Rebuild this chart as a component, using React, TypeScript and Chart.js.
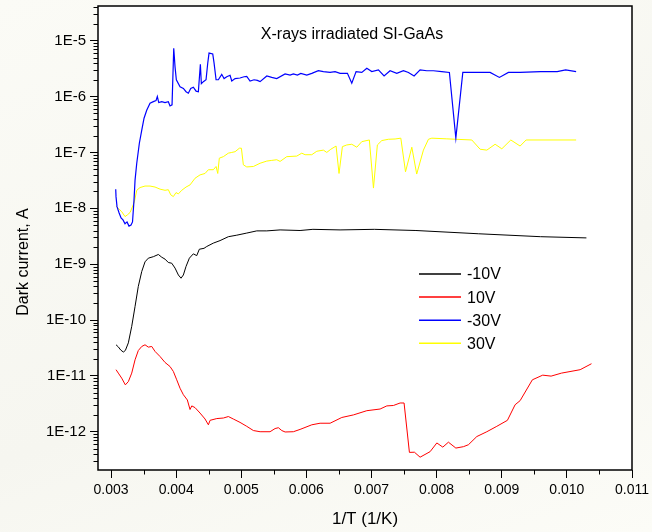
import React, { useEffect, useRef } from 'react';
import { Chart, registerables } from 'chart.js';

Chart.register(...registerables);

const FONT = '"Liberation Sans", Arial, sans-serif';

const X_MIN = 0.0028;
const X_MAX = 0.011;
const Y_MIN = 2.065e-13;
const Y_MAX = 4.18e-5;

const xTickValues = [0.003, 0.004, 0.005, 0.006, 0.007, 0.008, 0.009, 0.01, 0.011];
const xMinorTickValues = [0.0035, 0.0045, 0.0055, 0.0065, 0.0075, 0.0085, 0.0095, 0.0105];
const yTickValues = [1e-12, 1e-11, 1e-10, 1e-9, 1e-8, 1e-7, 1e-6, 1e-5];

const chartTitle = 'X-rays irradiated SI-GaAs';
const xTitle = '1/T (1/K)';
const yTitle = 'Dark current, A';

const seriesLabels = ['-10V', '10V', '-30V', '30V'];
const seriesColors = ['#000000', '#ff0000', '#0000ff', '#ffff00'];

// -10V
const blackX = [0.003077, 0.003112, 0.003149, 0.003189, 0.00322, 0.003266, 0.003318, 0.003369, 0.003419, 0.003472, 0.003522, 0.003573, 0.00365, 0.003727, 0.003779, 0.003829, 0.00388, 0.003932, 0.003983, 0.004034, 0.004075, 0.004111, 0.004152, 0.004203, 0.004264, 0.004316, 0.004356, 0.004428, 0.00447, 0.004571, 0.004674, 0.004802, 0.004931, 0.005084, 0.005238, 0.005392, 0.005596, 0.005903, 0.0061, 0.006517, 0.007043, 0.007682, 0.00864, 0.009597, 0.0103];
const blackY = [3.6e-11, 3.3e-11, 2.9e-11, 2.67e-11, 2.85e-11, 3.9e-11, 7.7e-11, 1.75e-10, 4.0e-10, 7.4e-10, 1.1e-9, 1.28e-9, 1.36e-9, 1.49e-9, 1.33e-9, 1.23e-9, 1.07e-9, 1.04e-9, 8.5e-10, 6.4e-10, 5.6e-10, 6.4e-10, 9.1e-10, 1.28e-9, 1.53e-9, 1.42e-9, 1.85e-9, 1.92e-9, 2.07e-9, 2.38e-9, 2.64e-9, 3.1e-9, 3.3e-9, 3.6e-9, 3.94e-9, 3.94e-9, 4.1e-9, 4.0e-9, 4.2e-9, 4.1e-9, 4.2e-9, 4.0e-9, 3.5e-9, 3.1e-9, 2.95e-9];

// 10V
const redX = [0.003077, 0.003112, 0.003164, 0.00322, 0.003266, 0.003318, 0.003369, 0.003419, 0.003472, 0.003522, 0.003573, 0.003625, 0.003676, 0.003753, 0.003829, 0.003906, 0.003957, 0.004009, 0.00406, 0.004111, 0.004172, 0.004213, 0.00424, 0.00429, 0.004367, 0.004444, 0.004495, 0.004521, 0.004624, 0.004725, 0.004802, 0.004878, 0.004981, 0.005084, 0.005186, 0.005289, 0.005442, 0.005519, 0.00557, 0.005622, 0.005673, 0.0058, 0.005903, 0.006083, 0.00621, 0.006364, 0.006544, 0.006722, 0.006928, 0.007132, 0.007235, 0.007336, 0.007439, 0.0075, 0.007582, 0.007659, 0.007746, 0.0079, 0.008003, 0.008095, 0.008181, 0.008295, 0.008411, 0.008488, 0.008617, 0.008771, 0.008924, 0.009087, 0.009205, 0.009282, 0.00947, 0.009629, 0.009758, 0.009917, 0.010204, 0.010378];
const redY = [1.29e-11, 1.12e-11, 9.1e-12, 6.9e-12, 7.9e-12, 1.12e-11, 1.94e-11, 2.84e-11, 3.36e-11, 3.6e-11, 3.27e-11, 3.36e-11, 2.74e-11, 2.22e-11, 1.74e-11, 1.47e-11, 1.2e-11, 8.5e-12, 6.0e-12, 4.6e-12, 3.7e-12, 2.5e-12, 2.9e-12, 2.7e-12, 2.16e-12, 1.69e-12, 1.33e-12, 1.6e-12, 1.72e-12, 1.76e-12, 1.87e-12, 1.69e-12, 1.47e-12, 1.25e-12, 1.05e-12, 1.0e-12, 1.0e-12, 1.14e-12, 1.18e-12, 1.05e-12, 9.9e-13, 1.0e-12, 1.1e-12, 1.33e-12, 1.42e-12, 1.42e-12, 1.8e-12, 2.0e-12, 2.38e-12, 2.55e-12, 2.9e-12, 2.95e-12, 3.27e-12, 3.27e-12, 4.27e-13, 4.3e-13, 3.5e-13, 4.4e-13, 6.3e-13, 5.3e-13, 6.5e-13, 5.1e-13, 5.4e-13, 5.85e-13, 8.2e-13, 1.0e-12, 1.25e-12, 1.6e-12, 3.04e-12, 3.6e-12, 8.5e-12, 1.03e-11, 9.9e-12, 1.12e-11, 1.29e-11, 1.65e-11];

// -30V
const blueX = [0.003072, 0.003077, 0.003092, 0.003123, 0.003154, 0.003184, 0.003215, 0.003246, 0.003276, 0.003307, 0.00333, 0.003353, 0.003369, 0.003395, 0.003435, 0.003472, 0.003507, 0.003548, 0.003599, 0.00365, 0.003691, 0.003711, 0.003733, 0.003779, 0.003829, 0.00388, 0.003906, 0.003937, 0.003963, 0.003983, 0.004003, 0.00406, 0.004111, 0.004152, 0.004187, 0.004224, 0.004264, 0.004306, 0.004341, 0.004372, 0.004387, 0.004418, 0.004459, 0.004485, 0.004505, 0.004562, 0.004582, 0.004613, 0.004648, 0.0047, 0.004736, 0.004777, 0.004828, 0.004854, 0.004905, 0.004981, 0.005043, 0.005084, 0.005135, 0.005196, 0.005247, 0.005289, 0.005392, 0.005468, 0.005545, 0.005673, 0.005749, 0.0058, 0.005862, 0.005914, 0.006006, 0.006083, 0.006184, 0.006261, 0.006364, 0.006441, 0.006517, 0.00663, 0.006697, 0.006763, 0.006851, 0.006928, 0.007004, 0.007106, 0.007193, 0.007285, 0.007388, 0.00749, 0.007567, 0.007654, 0.007746, 0.007849, 0.007951, 0.008079, 0.008196, 0.008295, 0.008402, 0.008821, 0.008964, 0.009102, 0.009282, 0.009597, 0.009851, 0.009981, 0.010142];
const blueY = [2.2e-8, 1.6e-8, 1.07e-8, 8.3e-9, 6.7e-9, 6.2e-9, 5.3e-9, 5.7e-9, 4.8e-9, 5.0e-9, 5.7e-9, 1.4e-8, 3.2e-8, 6.4e-8, 1.46e-7, 2.5e-7, 4.1e-7, 5.7e-7, 7.6e-7, 8.1e-7, 8.45e-7, 1.0e-6, 7.8e-7, 8.1e-7, 7.8e-7, 8.1e-7, 6.8e-7, 7.1e-7, 7.3e-6, 3.4e-6, 2.0e-6, 1.5e-6, 1.4e-6, 1.22e-6, 1.15e-6, 1.4e-6, 1.47e-6, 1.25e-6, 1.22e-6, 3.8e-6, 1.7e-6, 1.85e-6, 2.0e-6, 3.95e-6, 6.0e-6, 5.8e-6, 4.0e-6, 2.0e-6, 2.0e-6, 2.5e-6, 2.1e-6, 2.26e-6, 2.4e-6, 1.9e-6, 2.1e-6, 2.15e-6, 2.26e-6, 2.3e-6, 1.9e-6, 2.0e-6, 1.95e-6, 1.85e-6, 2.34e-6, 2.2e-6, 2.1e-6, 2.54e-6, 2.43e-6, 2.54e-6, 2.43e-6, 2.6e-6, 2.43e-6, 2.6e-6, 2.9e-6, 2.8e-6, 2.7e-6, 2.8e-6, 2.6e-6, 2.6e-6, 1.73e-6, 2.8e-6, 2.7e-6, 3.2e-6, 2.8e-6, 3.0e-6, 2.34e-6, 2.9e-6, 2.6e-6, 2.9e-6, 2.7e-6, 2.34e-6, 3.0e-6, 2.9e-6, 2.9e-6, 2.8e-6, 2.7e-6, 1.8e-7, 2.7e-6, 2.7e-6, 2.2e-6, 2.7e-6, 2.7e-6, 2.8e-6, 2.8e-6, 3.0e-6, 2.8e-6];

// 30V
const yellowX = [0.003077, 0.003112, 0.003164, 0.003215, 0.00325, 0.003292, 0.003327, 0.003358, 0.003395, 0.003445, 0.003522, 0.003599, 0.003676, 0.003753, 0.003829, 0.00388, 0.003917, 0.003957, 0.003998, 0.004034, 0.004086, 0.004152, 0.004213, 0.00429, 0.004367, 0.004444, 0.004495, 0.004571, 0.004613, 0.004639, 0.004663, 0.004725, 0.004802, 0.004854, 0.004905, 0.004971, 0.005002, 0.005032, 0.005084, 0.005186, 0.005289, 0.005392, 0.005468, 0.005545, 0.005596, 0.005699, 0.005852, 0.005929, 0.00598, 0.006083, 0.00616, 0.006261, 0.006313, 0.006375, 0.006456, 0.006501, 0.006553, 0.00662, 0.006697, 0.006774, 0.006851, 0.006967, 0.00703, 0.00709, 0.007158, 0.007259, 0.007362, 0.00745, 0.007522, 0.007619, 0.007694, 0.007797, 0.007874, 0.007926, 0.008156, 0.008295, 0.00854, 0.008668, 0.008771, 0.008898, 0.009001, 0.009139, 0.009282, 0.009374, 0.010142];
const yellowY = [1.1e-8, 1.0e-8, 8.7e-9, 7.1e-9, 7.6e-9, 8.4e-9, 1.05e-8, 1.3e-8, 2.1e-8, 2.35e-8, 2.5e-8, 2.5e-8, 2.4e-8, 2.2e-8, 2.1e-8, 2.15e-8, 1.74e-8, 1.62e-8, 1.91e-8, 1.81e-8, 2.1e-8, 2.4e-8, 2.62e-8, 3.45e-8, 3.96e-8, 4.2e-8, 4.9e-8, 4.9e-8, 5.6e-8, 4.2e-8, 7.9e-8, 8.4e-8, 9.7e-8, 1.0e-7, 1.03e-7, 1.19e-7, 1.19e-7, 6.0e-8, 5.5e-8, 5.6e-8, 6.4e-8, 7.0e-8, 7.2e-8, 7.4e-8, 6.9e-8, 8.4e-8, 8.6e-8, 9.7e-8, 9.1e-8, 9.1e-8, 1.05e-7, 1.1e-7, 1.0e-7, 1.14e-7, 1.3e-7, 4.2e-8, 1.27e-7, 1.36e-7, 1.4e-7, 1.24e-7, 1.56e-7, 1.67e-7, 2.3e-8, 1.36e-7, 1.63e-7, 1.72e-7, 1.74e-7, 1.8e-7, 4.5e-8, 1.24e-7, 4.1e-8, 1.1e-7, 1.72e-7, 1.8e-7, 1.75e-7, 1.72e-7, 1.67e-7, 1.14e-7, 1.1e-7, 1.4e-7, 1.16e-7, 1.67e-7, 1.3e-7, 1.67e-7, 1.67e-7];

const seriesX = [blackX, redX, blueX, yellowX];
const seriesY = [blackY, redY, blueY, yellowY];
const seriesWidths = [1, 1, 1.2, 1];

const decorPlugin = {
  id: 'decor',
  beforeDraw(chart: any) {
    const { ctx, chartArea: a } = chart;
    ctx.save();
    ctx.fillStyle = '#ffffff';
    ctx.fillRect(a.left, a.top, a.right - a.left, a.bottom - a.top);
    ctx.restore();
  },
  afterDraw(chart: any) {
    const { ctx, chartArea: a, scales } = chart;
    const xs = scales.x;
    const ys = scales.y;
    ctx.save();
    // frame
    ctx.strokeStyle = '#000';
    ctx.lineWidth = 1.5;
    ctx.strokeRect(a.left, a.top, a.right - a.left, a.bottom - a.top);
    // minor ticks
    ctx.lineWidth = 1;
    ctx.beginPath();
    xMinorTickValues.forEach((v) => {
      const px = Math.round(xs.getPixelForValue(v)) + 0.5;
      ctx.moveTo(px, a.bottom);
      ctx.lineTo(px, a.bottom + 4.5);
    });
    for (let d = -13; d <= -5; d++) {
      for (let m = 2; m <= 9; m++) {
        const v = m * Math.pow(10, d);
        if (v < Y_MIN || v > Y_MAX) continue;
        const py = Math.round(ys.getPixelForValue(v)) + 0.5;
        ctx.moveTo(a.left - 4.5, py);
        ctx.lineTo(a.left, py);
      }
    }
    ctx.stroke();

    // titles
    ctx.fillStyle = '#000';
    ctx.textAlign = 'center';
    ctx.textBaseline = 'middle';
    ctx.font = `16px ${FONT}`;
    ctx.fillText(chartTitle, 352, 35);
    ctx.font = `17px ${FONT}`;
    ctx.fillText(xTitle, (a.left + a.right) / 2, 519);
    ctx.save();
    ctx.translate(24, 262);
    ctx.rotate(-Math.PI / 2);
    ctx.font = `16px ${FONT}`;
    ctx.fillText(yTitle, 0, 0);
    ctx.restore();

    // legend
    ctx.font = `16px ${FONT}`;
    ctx.textAlign = 'left';
    chart.data.datasets.forEach((ds: any, i: number) => {
      const y = 274 + i * 23.1;
      ctx.strokeStyle = ds.borderColor;
      ctx.lineWidth = 1.5;
      ctx.beginPath();
      ctx.moveTo(419, y);
      ctx.lineTo(461, y);
      ctx.stroke();
      ctx.fillStyle = '#000';
      ctx.fillText(ds.label, 467, y + 1);
    });
    ctx.restore();
  },
};

export default function App() {
  const ref = useRef<HTMLCanvasElement | null>(null);
  useEffect(() => {
    if (!ref.current) return;
    const datasets = seriesLabels.map((label, i) => ({
      label,
      data: seriesX[i].map((x, j) => ({ x, y: seriesY[i][j] })),
      borderColor: seriesColors[i],
      backgroundColor: seriesColors[i],
      borderWidth: seriesWidths[i],
      pointRadius: 0,
      tension: 0,
      fill: false,
    }));
    const chart = new Chart(ref.current, {
      type: 'line',
      data: { datasets },
      plugins: [decorPlugin],
      options: {
        animation: false,
        responsive: false,
        devicePixelRatio: 1,
        layout: { padding: { left: 0, right: 20, top: 6, bottom: 0 } },
        plugins: { legend: { display: false }, title: { display: false }, tooltip: { enabled: false } },
        scales: {
          x: {
            type: 'linear',
            min: X_MIN,
            max: X_MAX,
            bounds: 'data',
            afterBuildTicks: (s: any) => {
              s.ticks = xTickValues.map((v) => ({ value: v }));
            },
            afterFit: (s: any) => {
              s.height = 62;
              s.paddingLeft = 0;
              s.paddingRight = 0;
            },
            ticks: {
              callback: (v: any) => Number(v).toFixed(3),
              font: { size: 14, family: FONT },
              color: '#000',
              padding: 4,
              maxRotation: 0,
              autoSkip: false,
            },
            grid: { drawOnChartArea: false, tickLength: 8, color: '#000', lineWidth: 1 },
            border: { display: false },
          },
          y: {
            type: 'logarithmic',
            min: Y_MIN,
            max: Y_MAX,
            bounds: 'data',
            afterBuildTicks: (s: any) => {
              s.ticks = yTickValues.map((v) => ({ value: v }));
            },
            afterFit: (s: any) => {
              s.width = 98;
              s.paddingTop = 0;
              s.paddingBottom = 0;
            },
            ticks: {
              callback: (v: any) => '1E' + Math.round(Math.log10(Number(v))),
              font: { size: 15, family: FONT },
              color: '#000',
              padding: 4,
              autoSkip: false,
            },
            grid: { drawOnChartArea: false, tickLength: 8, color: '#000', lineWidth: 1 },
            border: { display: false },
          },
        },
      },
    } as any);
    return () => chart.destroy();
  }, []);
  return (
    <div
      style={{
        position: 'fixed',
        left: 0,
        top: 0,
        width: 652,
        height: 532,
        background: 'linear-gradient(160deg, #fbfbf6 0%, #f6f6f0 60%, #fcfcf7 100%)',
      }}
    >
      <canvas ref={ref} width={652} height={532} style={{ display: 'block' }} />
    </div>
  );
}
